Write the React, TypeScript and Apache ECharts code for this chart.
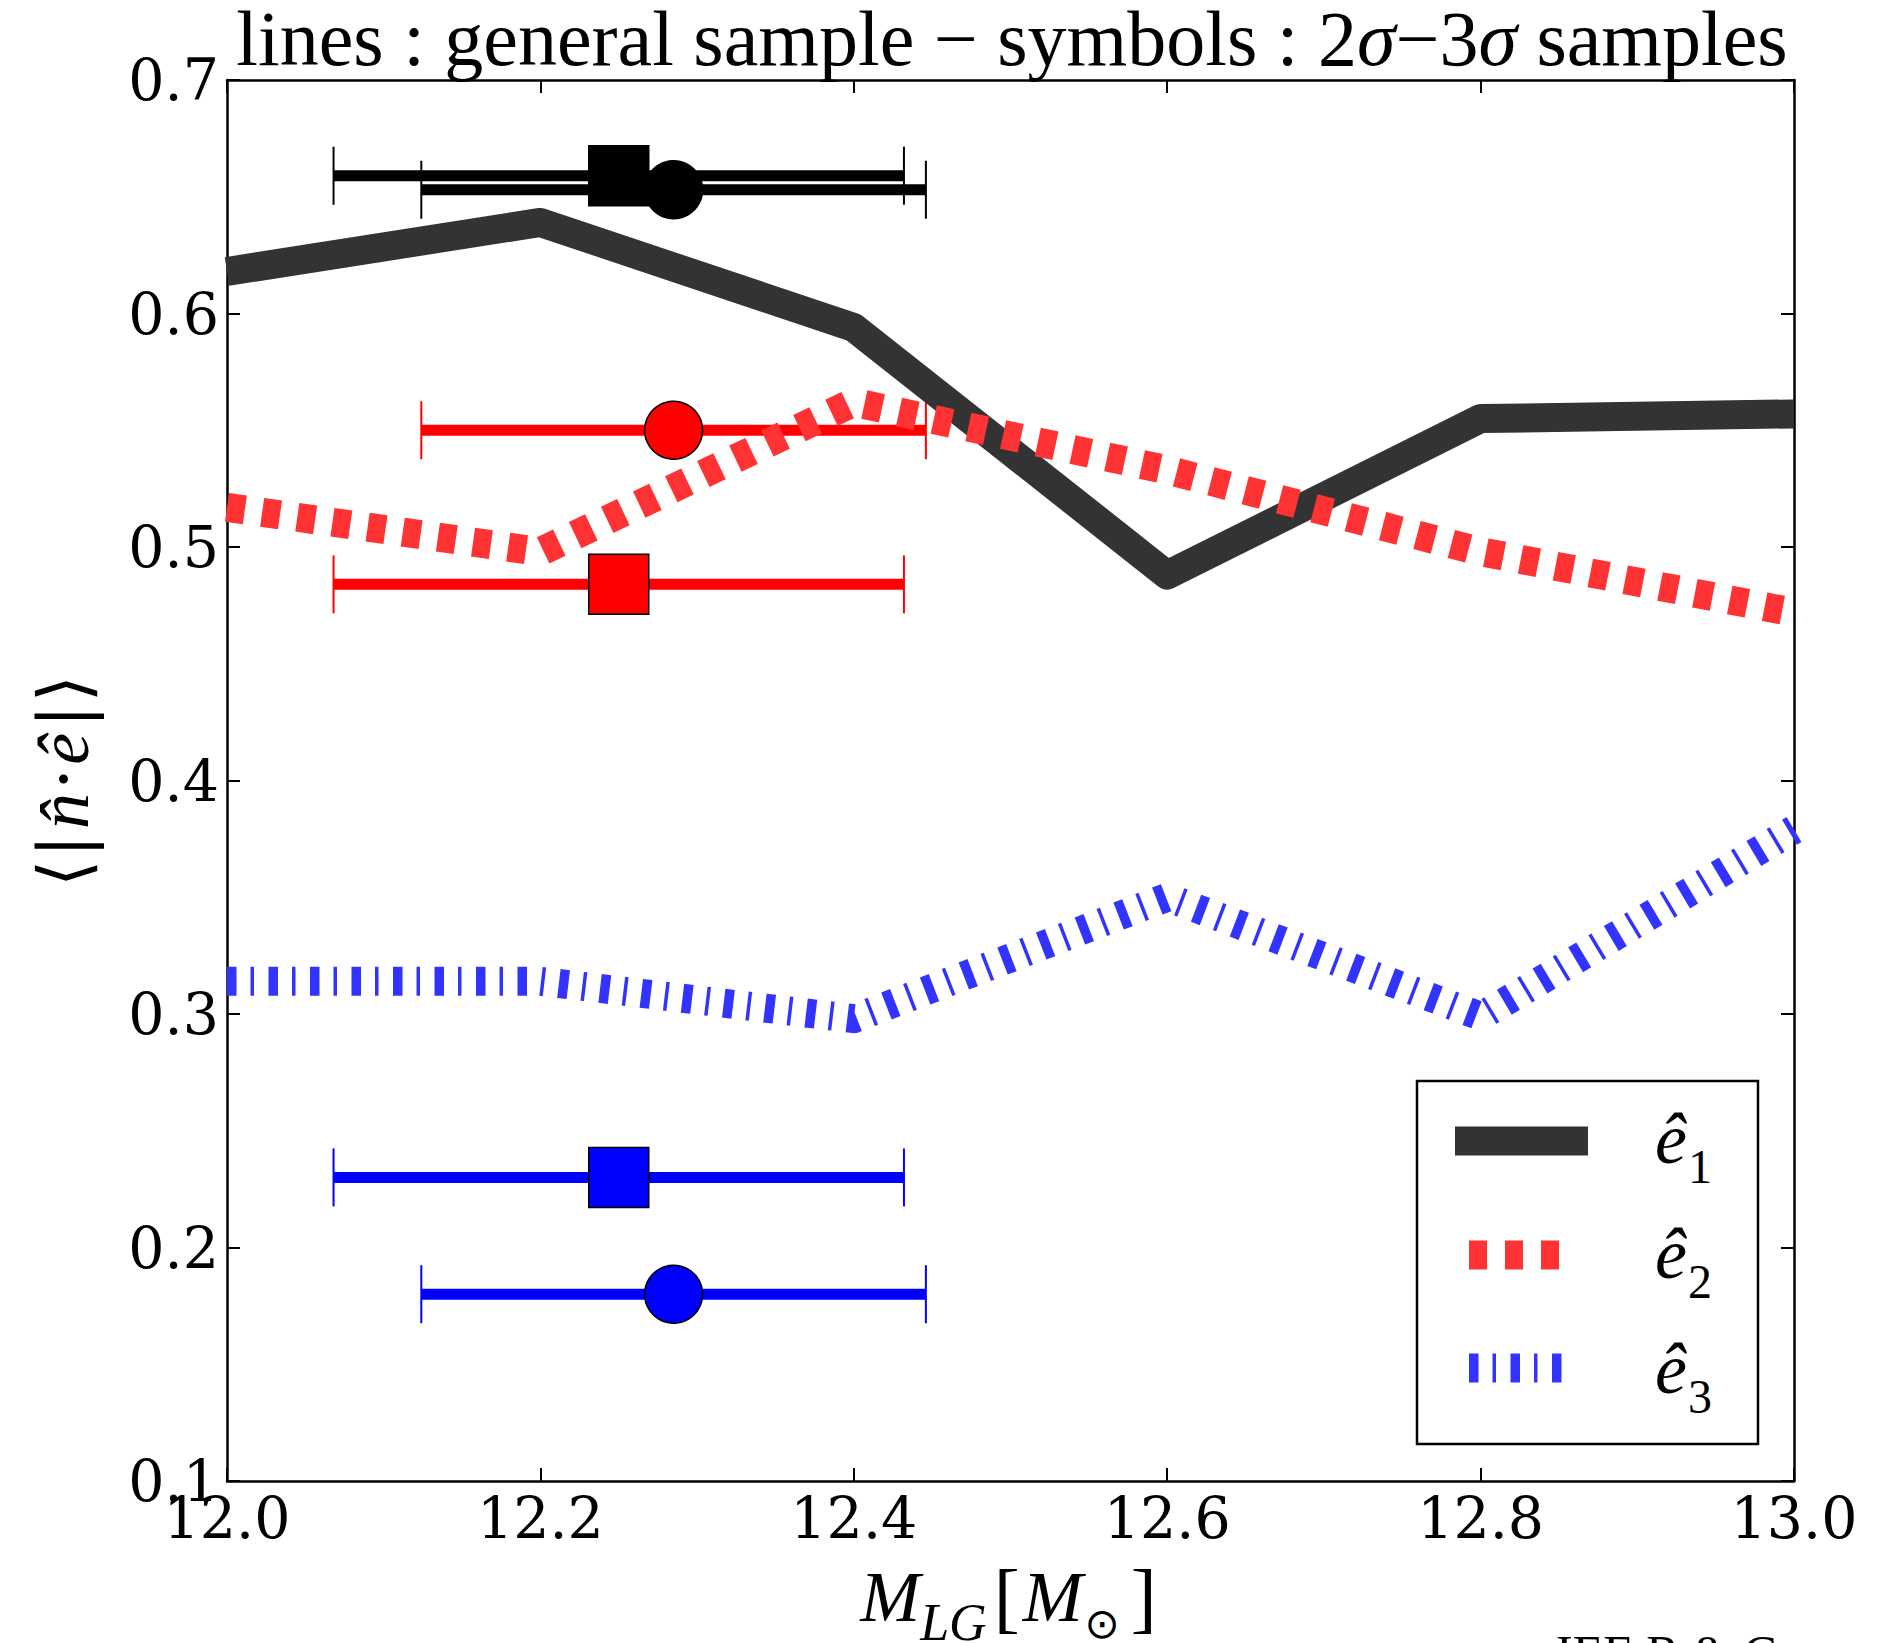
import React, { useEffect, useRef } from 'react';
import * as echarts from 'echarts';

// ---- data ----
const massBins = [12.0, 12.2, 12.4, 12.6, 12.8, 13.0];
const e1Values = [0.618, 0.639, 0.594, 0.488, 0.555, 0.557];
const e2Values = [0.517, 0.498, 0.562, 0.533, 0.498, 0.472];
const e3Values = [0.314, 0.314, 0.298, 0.350, 0.299, 0.379];

const sampleColors = ['#000000', '#ff0000', '#0000ff'];
const squareX = 12.25;
const squareXErr = 0.182;
const squareY = [0.659, 0.484, 0.23];
const circleX = 12.285;
const circleXErr = 0.161;
const circleY = [0.653, 0.55, 0.18];

const legendSubs = ['1', '2', '3'];

const SERIF = 'Liberation Serif';
const TICKFONT = 'DejaVu Serif';

export default function App() {
  const ref = useRef<HTMLDivElement>(null);

  useEffect(() => {
    document.body.style.margin = '0';
    if (!ref.current) return;
    const chart = echarts.init(ref.current, null, { renderer: 'svg' });

    const errData: any[] = [];
    sampleColors.forEach((c, i) => {
      errData.push([squareX, squareY[i], squareXErr, i]);
      errData.push([circleX, circleY[i], circleXErr, i]);
    });

    const axisCommon = {
      axisLine: { show: true, onZero: false, lineStyle: { color: '#000', width: 2.5 } },
      axisTick: { show: true, inside: true, length: 13, lineStyle: { color: '#000', width: 2 } },
      splitLine: { show: false },
    };

    const legendY = [1139, 1254, 1369];
    const sampleY = [1141, 1255, 1368];

    const graphic: any[] = [
      {
        type: 'text',
        x: 1012,
        y: 38,
        style: {
          text: '{r|lines : general sample − symbols : 2}{i|σ}{r|−3}{i|σ}{r| samples}',
          align: 'center',
          verticalAlign: 'middle',
          rich: {
            r: { fontFamily: SERIF, fontSize: 78, lineHeight: 70, fill: '#000' },
            i: { fontFamily: SERIF, fontSize: 78, lineHeight: 70, fontStyle: 'italic', fill: '#000' },
          },
        },
      },
      {
        type: 'text',
        x: 1010,
        y: 1597,
        style: {
          text: '{i|M}{s|LG}{r|[}{i|M}{o|⊙}{r|]}',
          align: 'center',
          verticalAlign: 'middle',
          rich: {
            i: { fontFamily: SERIF, fontSize: 72, fontStyle: 'italic', fill: '#000' },
            s: { fontFamily: SERIF, fontSize: 52, fontStyle: 'italic', fill: '#000', padding: [50, 4, 0, 0] },
            r: { fontFamily: SERIF, fontSize: 78, fill: '#000', padding: [0, 3, 0, 3] },
            o: { fontFamily: 'DejaVu Sans', fontSize: 42, fill: '#000', padding: [52, 8, 0, 2] },
          },
        },
      },
      {
        type: 'text',
        x: 64,
        y: 781,
        rotation: Math.PI / 2,
        style: {
          text: '{b|⟨}{v||}{i|n\u0302}{b|·}{i|ê}{v||}{b|⟩}',
          align: 'center',
          verticalAlign: 'middle',
          rich: {
            b: { fontFamily: 'DejaVu Serif', fontSize: 70, fill: '#000' },
            v: { fontFamily: 'DejaVu Serif', fontSize: 70, fill: '#000', padding: [0, 2, 0, 2] },
            i: { fontFamily: SERIF, fontSize: 72, fontStyle: 'italic', fill: '#000', padding: [0, 3, 0, 3] },
          },
        },
      },
      {
        type: 'rect',
        shape: { x: 1417, y: 1081, width: 341, height: 363 },
        style: { fill: '#fff', stroke: '#000', lineWidth: 2.5 },
        z: 100,
      },
      {
        type: 'line',
        shape: { x1: 1455, y1: sampleY[0], x2: 1588, y2: sampleY[0] },
        style: { stroke: '#333333', lineWidth: 29, lineCap: 'butt' },
        z: 101,
      },
      {
        type: 'line',
        shape: { x1: 1469, y1: sampleY[1], x2: 1559, y2: sampleY[1] },
        style: { stroke: '#ff3333', lineWidth: 29, lineCap: 'butt', lineDash: [18, 18] },
        z: 101,
      },
      {
        type: 'line',
        shape: { x1: 1469, y1: sampleY[2], x2: 1562, y2: sampleY[2] },
        style: { stroke: '#3333ff', lineWidth: 29, lineCap: 'butt', lineDash: [9.5, 14, 3.5, 14.5] },
        z: 101,
      },
      ...legendSubs.map((s, i) => ({
        type: 'text',
        x: 1655,
        y: legendY[i],
        z: 102,
        style: {
          text: '{e|ê}{s|' + s + '}',
          align: 'left',
          verticalAlign: 'middle',
          rich: {
            e: { fontFamily: SERIF, fontSize: 72, fontStyle: 'italic', fill: '#000' },
            s: { fontFamily: SERIF, fontSize: 48, fill: '#000', padding: [54, 0, 0, 1] },
          },
        },
      })),
      {
        type: 'text',
        x: 1556,
        y: 1653,
        style: {
          text: 'IEE R & C',
          fontFamily: SERIF,
          fontSize: 50,
          fill: '#000',
          align: 'left',
          verticalAlign: 'middle',
        },
      },
    ];

    const option: any = {
      animation: false,
      backgroundColor: '#fff',
      grid: { left: 227, top: 80, width: 1567, height: 1401, containLabel: false },
      xAxis: [
        {
          type: 'value',
          min: 12,
          max: 13,
          interval: 0.2,
          position: 'bottom',
          ...axisCommon,
          axisLabel: {
            show: true,
            margin: 8,
            fontFamily: TICKFONT,
            fontSize: 57,
            color: '#000',
            formatter: (v: number) => v.toFixed(1),
          },
        },
        {
          type: 'value',
          min: 12,
          max: 13,
          interval: 0.2,
          position: 'top',
          ...axisCommon,
          axisLabel: { show: false },
        },
      ],
      yAxis: [
        {
          type: 'value',
          min: 0.1,
          max: 0.7,
          interval: 0.1,
          position: 'left',
          ...axisCommon,
          axisLabel: {
            show: true,
            margin: 8,
            fontFamily: TICKFONT,
            fontSize: 57,
            color: '#000',
            formatter: (v: number) => v.toFixed(1),
          },
        },
        {
          type: 'value',
          min: 0.1,
          max: 0.7,
          interval: 0.1,
          position: 'right',
          ...axisCommon,
          axisLabel: { show: false },
        },
      ],
      series: [
        {
          type: 'custom',
          z: 2,
          data: errData,
          renderItem: (params: any, api: any) => {
            const x = api.value(0);
            const y = api.value(1);
            const e = api.value(2);
            const color = sampleColors[api.value(3)];
            const p0 = api.coord([x - e, y]);
            const p1 = api.coord([x + e, y]);
            const cap = 29;
            return {
              type: 'group',
              children: [
                {
                  type: 'line',
                  shape: { x1: p0[0], y1: p0[1], x2: p1[0], y2: p1[1] },
                  style: { stroke: color, lineWidth: 11, lineCap: 'butt' },
                },
                {
                  type: 'line',
                  shape: { x1: p0[0], y1: p0[1] - cap, x2: p0[0], y2: p0[1] + cap },
                  style: { stroke: color, lineWidth: 2 },
                },
                {
                  type: 'line',
                  shape: { x1: p1[0], y1: p1[1] - cap, x2: p1[0], y2: p1[1] + cap },
                  style: { stroke: color, lineWidth: 2 },
                },
              ],
            };
          },
        },
        {
          name: 'e1',
          type: 'line',
          z: 3,
          symbol: 'none',
          data: massBins.map((x, i) => [x, e1Values[i]]),
          lineStyle: { color: '#333333', width: 29, cap: 'butt', join: 'round' },
        },
        {
          name: 'e2',
          type: 'line',
          z: 3,
          symbol: 'none',
          data: massBins.map((x, i) => [x, e2Values[i]]),
          lineStyle: { color: '#ff3333', width: 29, type: [18, 17.5], cap: 'butt', join: 'round' },
        },
        {
          name: 'e3',
          type: 'line',
          z: 3,
          symbol: 'none',
          data: massBins.map((x, i) => [x, e3Values[i]]),
          lineStyle: { color: '#3333ff', width: 29, type: [9.5, 14, 3.5, 14.5], cap: 'butt', join: 'round' },
        },
        {
          type: 'scatter',
          z: 4,
          symbol: 'rect',
          symbolSize: 60,
          data: squareY.map((y, i) => ({ value: [squareX, y], itemStyle: { color: sampleColors[i] } })),
          itemStyle: { borderColor: '#000', borderWidth: 1.5, opacity: 1 },
        },
        {
          type: 'scatter',
          z: 4,
          symbol: 'circle',
          symbolSize: 58,
          data: circleY.map((y, i) => ({ value: [circleX, y], itemStyle: { color: sampleColors[i] } })),
          itemStyle: { borderColor: '#000', borderWidth: 1.5, opacity: 1 },
        },
      ],
      graphic,
    };

    chart.setOption(option);
    return () => {
      chart.dispose();
    };
  }, []);

  return <div ref={ref} style={{ width: 1877, height: 1643 }} />;
}
